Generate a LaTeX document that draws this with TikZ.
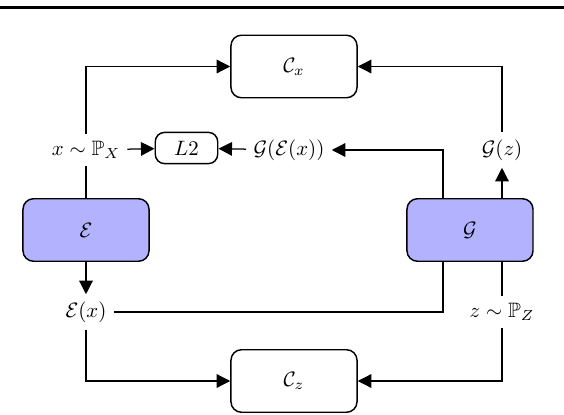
\documentclass[tikz,border=0pt]{standalone}
\usepackage{amsmath,amssymb}
\usetikzlibrary{arrows.meta}
\begin{document}
\begin{tikzpicture}[x=0.48pt, y=0.48pt,
    block/.style ={rectangle, rounded corners=5pt, draw, line width=0.7pt, minimum width=60.5pt, minimum height=30pt},
    net/.style ={block, fill=blue!30},
    loss/.style ={rectangle, rounded corners=4.5pt, draw, line width=0.7pt, minimum width=30pt, minimum height=15pt},
    wire/.style ={line width=0.6pt},
    arr/.style ={wire, -{Triangle[length=6.5pt, width=6.5pt]}}]
   \useasboundingbox (0,0) rectangle (564,414);
   \draw[line width=1.7pt] (0,406.5) -- (564,406.5);
   \node[block] (Cx)  at (294,347.5)  {$\mathcal{C}_x$};
   \node[block] (Cz)  at (294,33)  {$\mathcal{C}_z$};
   \node[net] (E)  at (86,184)  {$\mathcal{E}$};
   \node[net] (G)  at (470,184)  {$\mathcal{G}$};
   \node[loss] (L2)  at (186.5,266)  {$L2$};
   \node (px)  at (86,264)  {$x \sim \mathbb{P}_X$};
   \node (gex)  at (289,264)  {$\mathcal{G}(\mathcal{E}(x))$};
   \node (gz)  at (502,264)  {$\mathcal{G}(z)$};
   \node (ex)  at (86,102)  {$\mathcal{E}(x)$};
   \node (pz)  at (502,102)  {$z \sim \mathbb{P}_Z$};
   \draw[arr] (px) |- (Cx);
   \draw[arr] (gz) |- (Cx);
   \draw[arr] (ex) |- (Cz);
   \draw[arr] (pz) |- (Cz);
   \draw[wire] (px) -- (E);
   \draw[arr] (E) -- (ex);
   \draw[arr] (px) -- (L2);
   \draw[arr] (gex) -- (L2);
   \draw[arr] ([xshift=-13pt]G.north) |- (gex);
   \draw[wire] (ex) -| ([xshift=-13pt]G.south);
   \draw[arr] (G.north -| gz) -- (gz);
   \draw[wire] (pz) -- (G.south -| pz);
 \end{tikzpicture}
\end{document}
